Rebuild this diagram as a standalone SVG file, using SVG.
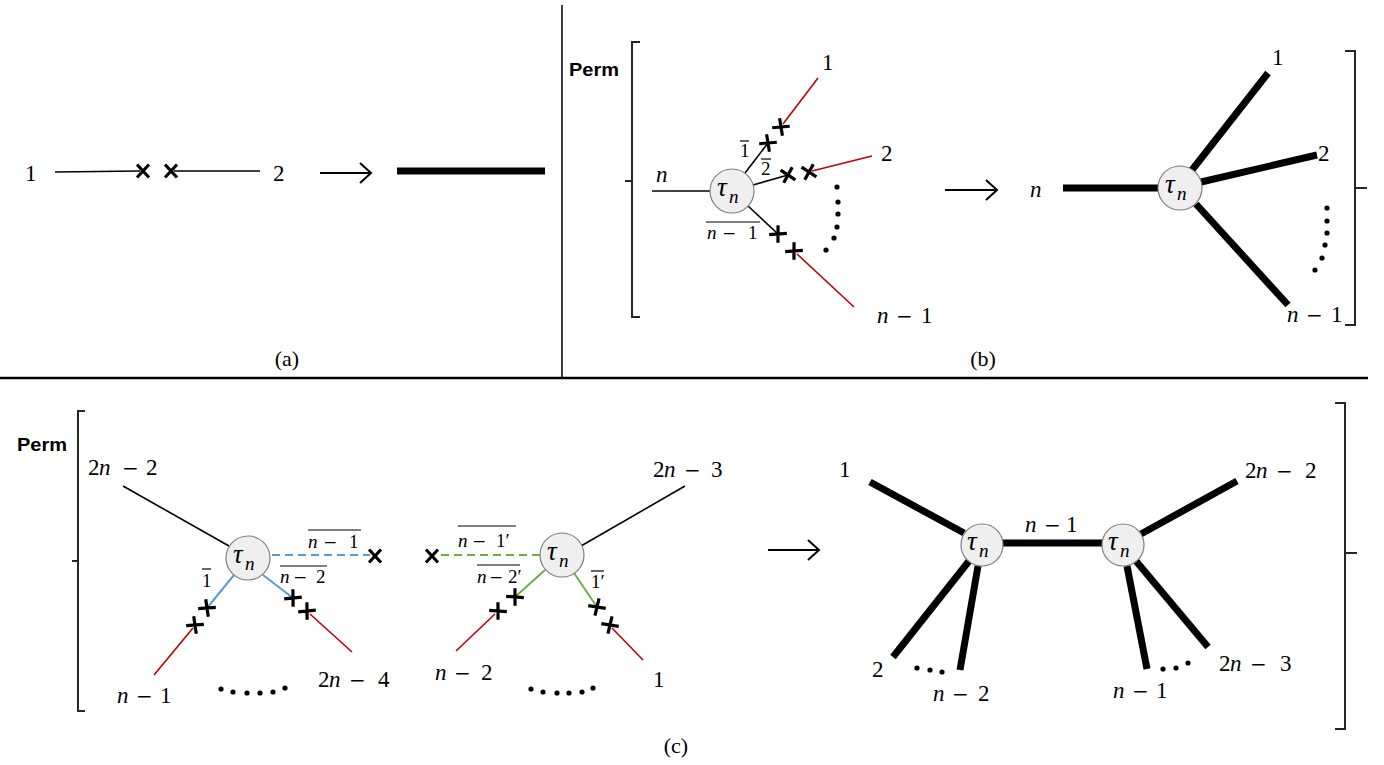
<svg xmlns="http://www.w3.org/2000/svg" width="1384" height="765" viewBox="0 0 1384 765">
<defs>
<style>
.ln{stroke:#000;stroke-width:1.6;fill:none}
.rd{stroke:#c00000;stroke-width:1.6;fill:none}
.bl{stroke:#5b9bd5;stroke-width:2;fill:none}
.gr{stroke:#70ad47;stroke-width:2;fill:none}
.ds{stroke-dasharray:8 5}
.tk{stroke:#000;stroke-width:7;fill:none}
.br{stroke:#262626;stroke-width:2;fill:none}
.ar{stroke:#000;stroke-width:2;fill:none}
.cx{stroke:#000;stroke-width:3.2;fill:none}
.nd{fill:#efefef;stroke:#7f7f7f;stroke-width:1.2}
.dv{stroke:#000;fill:none}
.ol{stroke:#000;stroke-width:1.2}
text{font-family:"Liberation Serif","DejaVu Serif",serif;font-size:23px;fill:#000}
.i{font-style:italic}
.s{font-size:19px}
.mn{font-family:"DejaVu Serif",serif;font-size:20px}
.s .mn{font-size:17px}
.pm{font-family:"Liberation Sans",Arial,sans-serif;font-weight:bold;font-size:19px}
.tau{font-style:italic;font-size:27px}
.sub{font-style:italic;font-size:19px}
.cap{font-size:22px}
</style>
<path id="x" class="cx" d="M-6,-6.5L6,6.5M6,-6.5L-6,6.5"/>
<circle id="d" r="2.6" fill="#000"/>
</defs>
<rect width="1384" height="765" fill="#fff"/>

<g id="frame">
<line class="dv" x1="562" y1="5" x2="562" y2="378" stroke-width="1.5"/>
<line class="dv" x1="0" y1="378" x2="1368" y2="378" stroke-width="2.5"/>
<text class="cap" x="287" y="366" text-anchor="middle">(a)</text>
<text class="cap" x="983" y="366" text-anchor="middle">(b)</text>
<text class="cap" x="676" y="753" text-anchor="middle">(c)</text>
</g>

<g id="brackets">
<text class="pm" x="569" y="76" textLength="50" lengthAdjust="spacingAndGlyphs">Perm</text>
<path class="br" d="M640,42H632V317H640M632,181H625"/>
<path class="br" d="M1345,51H1355V325H1345M1355,188H1367"/>
<text class="pm" x="17" y="451" textLength="50" lengthAdjust="spacingAndGlyphs">Perm</text>
<path class="br" d="M85,411H78V711H85M78,561H72"/>
<path class="br" d="M1335,403H1345V729H1335M1345,553H1357"/>
</g>

<g id="connectors">
<!-- (a) -->
<line class="ln" x1="55" y1="172" x2="140" y2="171"/>
<line class="ln" x1="174" y1="171" x2="260" y2="171"/>
<use href="#x" x="143" y="171"/>
<use href="#x" x="171" y="171"/>
<path class="ar" d="M320,173H370M360,163L371,173L360,183"/>
<line class="tk" x1="397" y1="171" x2="545" y2="171"/>
<!-- (b) left -->
<line class="ln" x1="652" y1="191" x2="710" y2="191"/>
<line class="ln" x1="745" y1="173" x2="768" y2="143"/>
<use href="#x" transform="translate(768,143) rotate(-52)"/>
<use href="#x" transform="translate(781,127) rotate(-52)"/>
<line class="rd" x1="783" y1="124" x2="818" y2="78"/>
<line class="ln" x1="753" y1="185" x2="788" y2="175"/>
<use href="#x" transform="translate(788,175) rotate(-14)"/>
<use href="#x" transform="translate(809,172) rotate(-14)"/>
<line class="rd" x1="812" y1="171" x2="872" y2="156"/>
<line class="ln" x1="748" y1="206" x2="778" y2="234"/>
<use href="#x" transform="translate(778,234) rotate(43)"/>
<use href="#x" transform="translate(794,251) rotate(43)"/>
<line class="rd" x1="797" y1="254" x2="854" y2="307"/>
<path class="ar" d="M945,190H996M986,180L997,190L986,200"/>
<!-- (b) right -->
<line class="tk" x1="1063" y1="188" x2="1158" y2="188"/>
<line class="tk" x1="1192" y1="170" x2="1268" y2="73"/>
<line class="tk" x1="1201" y1="182" x2="1317" y2="155"/>
<line class="tk" x1="1196" y1="204" x2="1288" y2="305"/>
<!-- (c) left -->
<line class="ln" x1="123" y1="486" x2="229" y2="546"/>
<line class="bl ds" x1="272" y1="555" x2="370" y2="555"/>
<use href="#x" x="375" y="556"/>
<line class="bl" x1="234" y1="575" x2="207" y2="608"/>
<use href="#x" transform="translate(207,608) rotate(129)"/>
<use href="#x" transform="translate(195,625) rotate(129)"/>
<line class="rd" x1="193" y1="628" x2="154" y2="675"/>
<line class="bl" x1="263" y1="575" x2="293" y2="598"/>
<use href="#x" transform="translate(293,598) rotate(42)"/>
<use href="#x" transform="translate(307,611) rotate(42)"/>
<line class="rd" x1="310" y1="614" x2="352" y2="652"/>
<!-- (c) middle -->
<line class="ln" x1="685" y1="486" x2="581" y2="546"/>
<line class="gr ds" x1="540" y1="555" x2="437" y2="555"/>
<use href="#x" x="432" y="556"/>
<line class="gr" x1="545" y1="570" x2="515" y2="597"/>
<use href="#x" transform="translate(515,597) rotate(137)"/>
<use href="#x" transform="translate(498,611) rotate(137)"/>
<line class="rd" x1="495" y1="614" x2="456" y2="651"/>
<line class="gr" x1="574" y1="573" x2="597" y2="607"/>
<use href="#x" transform="translate(597,607) rotate(56)"/>
<use href="#x" transform="translate(610,625) rotate(56)"/>
<line class="rd" x1="612" y1="628" x2="643" y2="660"/>
<path class="ar" d="M768,550H818M808,540L819,550L808,560"/>
<!-- (c) right -->
<line class="tk" x1="870" y1="482" x2="964" y2="533"/>
<line class="tk" x1="1003" y1="543" x2="1102" y2="543"/>
<line class="tk" x1="1141" y1="534" x2="1237" y2="481"/>
<line class="tk" x1="969" y1="561" x2="893" y2="657"/>
<line class="tk" x1="978" y1="566" x2="960" y2="670"/>
<line class="tk" x1="1127" y1="566" x2="1147" y2="669"/>
<line class="tk" x1="1136" y1="561" x2="1208" y2="647"/>
</g>

<g id="node-b1"><circle class="nd" cx="732" cy="191" r="22"/><text class="tau" x="717" y="196">τ</text><text class="sub" x="729" y="203">n</text></g>
<g id="node-b2"><circle class="nd" cx="1180" cy="188" r="22"/><text class="tau" x="1165" y="193">τ</text><text class="sub" x="1177" y="200">n</text></g>
<g id="node-c1"><circle class="nd" cx="248" cy="558" r="22"/><text class="tau" x="233" y="563">τ</text><text class="sub" x="245" y="570">n</text></g>
<g id="node-c2"><circle class="nd" cx="562" cy="555" r="22"/><text class="tau" x="547" y="560">τ</text><text class="sub" x="559" y="567">n</text></g>
<g id="node-c3"><circle class="nd" cx="982" cy="545" r="21"/><text class="tau" x="967" y="550">τ</text><text class="sub" x="979" y="557">n</text></g>
<g id="node-c4"><circle class="nd" cx="1123" cy="545" r="21"/><text class="tau" x="1108" y="550">τ</text><text class="sub" x="1120" y="557">n</text></g>

<g id="labels">
<!-- (a) -->
<text x="25" y="181">1</text>
<text x="273" y="181">2</text>
<!-- (b) left -->
<text class="i" x="656" y="182">n</text>
<text x="822" y="70">1</text>
<text x="881" y="161">2</text>
<text x="877" y="323"><tspan class="i">n</tspan><tspan class="mn" x="896">−</tspan><tspan x="921">1</tspan></text>
<text class="s" x="740" y="157">1</text><line class="ol" x1="740" y1="141" x2="749" y2="141"/>
<text class="s" x="761" y="175">2</text><line class="ol" x1="761" y1="159" x2="771" y2="159"/>
<text class="s" x="707" y="239"><tspan class="i">n</tspan><tspan class="mn" x="722">−</tspan><tspan x="748">1</tspan></text><line class="ol" x1="706" y1="222" x2="760" y2="222"/>
<use href="#d" x="837" y="187"/><use href="#d" x="838" y="202"/><use href="#d" x="838" y="214"/><use href="#d" x="837" y="227"/><use href="#d" x="834" y="238"/><use href="#d" x="826" y="250"/>
<!-- (b) right -->
<text class="i" x="1030" y="197">n</text>
<text x="1272" y="65">1</text>
<text x="1318" y="161">2</text>
<text x="1287" y="322"><tspan class="i">n</tspan><tspan class="mn" x="1306">−</tspan><tspan x="1331">1</tspan></text>
<use href="#d" x="1327" y="208"/><use href="#d" x="1327" y="221"/><use href="#d" x="1327" y="233"/><use href="#d" x="1325" y="245"/><use href="#d" x="1322" y="258"/><use href="#d" x="1315" y="270"/>
<!-- (c) left -->
<text x="88" y="475">2<tspan class="i" x="99">n</tspan><tspan class="mn" x="122">−</tspan><tspan x="146">2</tspan></text>
<text class="s" x="308" y="548"><tspan class="i">n</tspan><tspan class="mn" x="323">−</tspan><tspan x="349">1</tspan></text><line class="ol" x1="308" y1="530" x2="361" y2="530"/>
<text class="s" x="280" y="583"><tspan class="i">n</tspan><tspan class="mn" x="293">−</tspan><tspan x="316">2</tspan></text><line class="ol" x1="280" y1="566" x2="327" y2="566"/>
<text class="s" x="202" y="587">1</text><line class="ol" x1="202" y1="569" x2="211" y2="569"/>
<text x="117" y="703"><tspan class="i">n</tspan><tspan class="mn" x="136">−</tspan><tspan x="160">1</tspan></text>
<text x="318" y="687">2<tspan class="i" x="329">n</tspan><tspan class="mn" x="349">−</tspan><tspan x="378">4</tspan></text>
<use href="#d" x="221" y="689"/><use href="#d" x="233" y="692"/><use href="#d" x="247" y="693"/><use href="#d" x="260" y="693"/><use href="#d" x="273" y="692"/><use href="#d" x="285" y="688"/>
<!-- (c) middle -->
<text x="653" y="477">2<tspan class="i" x="664">n</tspan><tspan class="mn" x="684">−</tspan><tspan x="711">3</tspan></text>
<text class="s" x="458" y="547"><tspan class="i">n</tspan><tspan class="mn" x="472">−</tspan><tspan x="496">1′</tspan></text><line class="ol" x1="458" y1="526" x2="516" y2="526"/>
<text class="s" x="477" y="583"><tspan class="i">n</tspan><tspan class="mn" x="489">−</tspan><tspan x="508">2′</tspan></text><line class="ol" x1="477" y1="565" x2="520" y2="565"/>
<text class="s" x="591" y="588">1′</text><line class="ol" x1="591" y1="571" x2="604" y2="571"/>
<text x="435" y="680"><tspan class="i">n</tspan><tspan class="mn" x="454">−</tspan><tspan x="481">2</tspan></text>
<text x="653" y="687">1</text>
<use href="#d" x="531" y="689"/><use href="#d" x="543" y="692"/><use href="#d" x="557" y="693"/><use href="#d" x="569" y="693"/><use href="#d" x="582" y="692"/><use href="#d" x="593" y="688"/>
<!-- (c) right -->
<text x="839" y="477">1</text>
<text x="1025" y="532"><tspan class="i">n</tspan><tspan class="mn" x="1044">−</tspan><tspan x="1066">1</tspan></text>
<text x="1245" y="478">2<tspan class="i" x="1256">n</tspan><tspan class="mn" x="1276">−</tspan><tspan x="1305">2</tspan></text>
<text x="872" y="677">2</text>
<use href="#d" x="917" y="668"/><use href="#d" x="930" y="670"/><use href="#d" x="942" y="672"/>
<text x="933" y="701"><tspan class="i">n</tspan><tspan class="mn" x="952">−</tspan><tspan x="978">2</tspan></text>
<use href="#d" x="1163" y="669"/><use href="#d" x="1176" y="668"/><use href="#d" x="1188" y="663"/>
<text x="1113" y="698"><tspan class="i">n</tspan><tspan class="mn" x="1132">−</tspan><tspan x="1156">1</tspan></text>
<text x="1219" y="671">2<tspan class="i" x="1230">n</tspan><tspan class="mn" x="1250">−</tspan><tspan x="1280">3</tspan></text>
</g>
</svg>
